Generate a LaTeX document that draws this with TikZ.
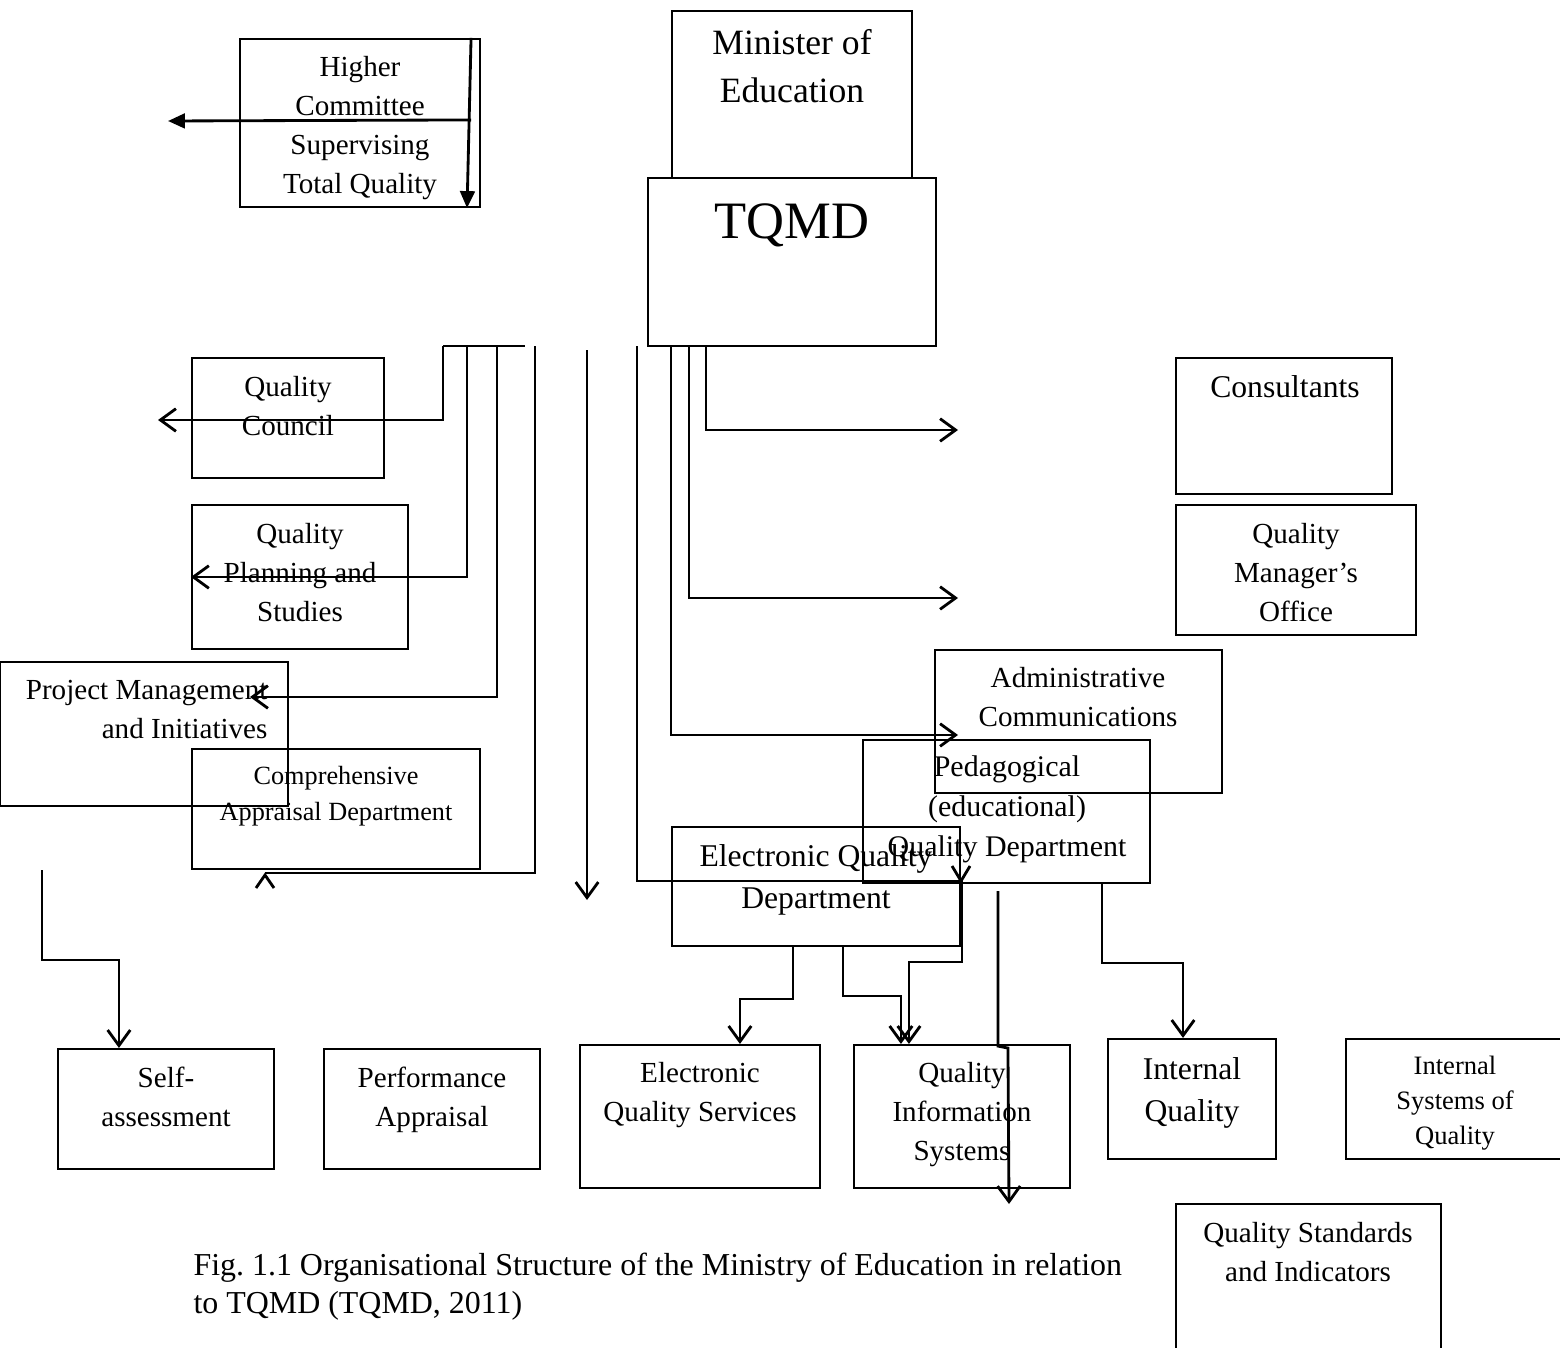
\documentclass[tikz,border=0pt]{standalone}
\usepackage{fontspec}
\setmainfont{Liberation Serif}
\usetikzlibrary{arrows.meta,calc}
\newcommand\unitpx{0.354pt}

\begin{document}
\begin{tikzpicture}[x=\unitpx,y=-\unitpx,
    box/.style={draw,line width=0.75pt,inner sep=0pt},
    txt/.style={align=center,inner sep=0pt,anchor=north,execute at begin node=\strut},
    fs/.style={font=\fontsize{9.3}{12.7}\selectfont},
    fm/.style={font=\fontsize{10.3}{13.8}\selectfont},
    fl/.style={font=\fontsize{11.2}{14.9}\selectfont},
    conn/.style={line width=1pt},
    arr/.style={conn,-{Straight Barb[length=5.5pt,width=8pt]}},
    farr/.style={conn,-{Triangle[length=6pt,width=5.2pt]}}]
    \fill[white] (0,0) rectangle (1560,1347);
    \useasboundingbox (0,0) rectangle (1560,1347);
    % boxes
    \node[box,minimum width=240*\unitpx,minimum height=168*\unitpx] (hc) at (360,123) {};
    \node[box,minimum width=240*\unitpx,minimum height=167*\unitpx] (mine) at (792,94.5) {};
    \node[box,minimum width=288*\unitpx,minimum height=168*\unitpx] (tqmd) at (792,262) {};
    \node[box,minimum width=192*\unitpx,minimum height=120*\unitpx] (qc) at (288,418) {};
    \node[box,minimum width=216*\unitpx,minimum height=144*\unitpx] (qps) at (300,577) {};
    \node[box,minimum width=288*\unitpx,minimum height=144*\unitpx] (pmi) at (144,734) {};
    \node[box,minimum width=288*\unitpx,minimum height=120*\unitpx] (cad) at (336,809) {};
    \node[box,minimum width=216*\unitpx,minimum height=136*\unitpx] (cons) at (1284,426) {};
    \node[box,minimum width=240*\unitpx,minimum height=130*\unitpx] (qmo) at (1296,570) {};
    \node[box,minimum width=287*\unitpx,minimum height=143*\unitpx] (adm) at (1078.5,721.5) {};
    \node[box,minimum width=287*\unitpx,minimum height=143*\unitpx] (ped) at (1006.5,811.5) {};
    \node[box,minimum width=288*\unitpx,minimum height=119*\unitpx] (eqd) at (816,886.5) {};
    \node[box,minimum width=216*\unitpx,minimum height=120*\unitpx] (self) at (166,1109) {};
    \node[box,minimum width=216*\unitpx,minimum height=120*\unitpx] (perf) at (432,1109) {};
    \node[box,minimum width=240*\unitpx,minimum height=143*\unitpx] (eqs) at (700,1116.5) {};
    \node[box,minimum width=216*\unitpx,minimum height=143*\unitpx] (qis) at (962,1116.5) {};
    \node[box,minimum width=168*\unitpx,minimum height=120*\unitpx] (iq) at (1192,1099) {};
    \node[box,minimum width=234*\unitpx,minimum height=120*\unitpx] (isq) at (1463,1099) {};
    \node[box,minimum width=265*\unitpx,minimum height=166*\unitpx] (qsi) at (1308.5,1287) {};
    % texts
    \node[txt,fm] (hc-t) at (360,55.4) {Higher\\Committee\\Supervising\\Total Quality};
    \node[txt,font=\fontsize{12.6}{17}\selectfont] (mine-t) at (792,29) {Minister of\\Education};
    \node[txt,font=\fontsize{18.6}{22}\selectfont] (tqmd-t) at (792,194) {TQMD};
    \node[txt,fm] (qc-t) at (288,375.4) {Quality\\Council};
    \node[txt,fm] (qps-t) at (300,522.4) {Quality\\Planning and\\Studies};
    \node[txt,fm,align=right,anchor=north east] (pmi-t) at (268,679.4) {Project Management\\and Initiatives};
    \node[txt,fs] (cad-t) at (336,766) {Comprehensive\\Appraisal Department};
    \node[txt,fl] (cons-t) at (1285,367) {Consultants};
    \node[txt,fm] (qmo-t) at (1296,522.4) {Quality\\Manager’s\\Office};
    \node[txt,fm] (adm-t) at (1078,666.4) {Administrative\\Communications};
    \node[txt,font=\fontsize{10.6}{14.2}\selectfont] (ped-t) at (1007,754.8) {Pedagogical\\(educational)\\Quality Department};
    \node[txt,fl] (eqd-t) at (816,844) {Electronic Quality\\Department};
    \node[txt,fm] (self-t) at (166,1066.4) {Self-\\assessment};
    \node[txt,fm] (perf-t) at (432,1066.4) {Performance\\Appraisal};
    \node[txt,fm] (eqs-t) at (700,1061.4) {Electronic\\Quality Services};
    \node[txt,fm] (qis-t) at (962,1061.4) {Quality\\Information\\Systems};
    \node[txt,fl] (iq-t) at (1192,1057) {Internal\\Quality};
    \node[txt,font=\fontsize{9.4}{12.4}\selectfont] (isq-t) at (1455,1055.2) {Internal\\Systems of\\Quality};
    \node[txt,fm] (qsi-t) at (1308,1221.4) {Quality Standards\\and Indicators};
    \node[txt,font=\fontsize{11.3}{13.5}\selectfont,align=left,anchor=north west] (cap) at (193,1252.8)
        {Fig.\ 1.1 Organisational Structure of the Ministry of Education in relation\\to TQMD (TQMD, 2011)};
    % higher committee arrows
    \coordinate (hcleft) at (168,121);
    \draw[farr] ($(hc.north east)+(-10,0)$) -- ($(hc.south east)+(-14,0)$);
    \draw[farr] ($(hc.north east)+(-10,82)$) -- (hcleft);
    % left branches under TQMD
    \coordinate (busL) at (443,346);
    \coordinate (qcend) at (158,420);
    \coordinate (pmiend) at (250,697);
    \coordinate (cadend) at (265,873);
    \draw[conn] (busL) -- ++(82,0);
    \draw[arr] (busL) |- (qcend);
    \draw[arr] ($(busL)+(24,0)$) |- (qps.west);
    \draw[arr] ($(busL)+(54,0)$) |- (pmiend);
    \draw[conn] ($(busL)+(92,0)$) |- (cadend);
    \draw[conn] ($(cadend)+(-9,15)$) -- ($(cadend)+(0,2)$) -- ($(cadend)+(9,15)$);
    \coordinate (dntop) at (587,350);
    \draw[arr] (dntop) -- ++(0,550);
    % long branch to quality information systems
    \coordinate (eqtop) at (637,346);
    \coordinate (eqturn) at (962,881);
    \draw[arr] (eqtop) |- (eqturn) -- ++(0,81) -| ($(qis.north west)+(56,0)$);
    \draw[conn] ($(eqturn)+(-10,-15)$) -- ($(eqturn)+(-1,0)$) -- ($(eqturn)+(8,-15)$);
    % right branches from TQMD
    \coordinate (consend) at (958,430);
    \coordinate (qmoend) at (958,598);
    \coordinate (admend) at (958,735);
    \draw[arr] ($(tqmd.south west)+(59,0)$) |- (consend);
    \draw[arr] ($(tqmd.south west)+(42,0)$) |- (qmoend);
    \draw[arr] ($(tqmd.south west)+(24,0)$) |- (admend);
    % lower branches
    \draw[arr] ($(eqd.south west)+(122,0)$) -- ++(0,52) -| ($(eqs.north west)+(161,0)$);
    \draw[arr] ($(eqd.south west)+(172,0)$) -- ++(0,49) -| ($(qis.north west)+(48,0)$);
    \coordinate (pedend) at (1009,1204);
    \draw[arr] ($(ped.south west)+(136,7)$) -- ++(0,155) -- ++(10,2) -- (pedend);
    \draw[arr] ($(ped.south west)+(240,0)$) -- ++(0,79) -| ($(iq.north)+(-9,0)$);
    \coordinate (selftop) at (42,870);
    \draw[arr] (selftop) -- ++(0,90) -| ($(self.north west)+(62,0)$);
\end{tikzpicture}
\end{document}
